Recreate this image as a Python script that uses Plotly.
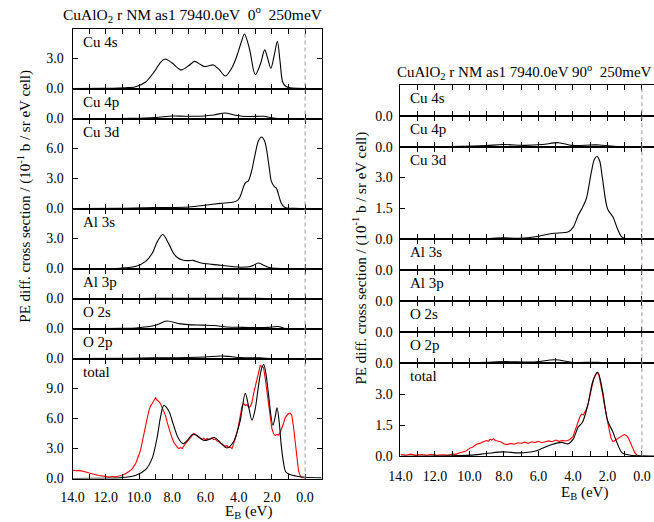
import plotly.graph_objects as go

# ---------------- data (E_B in eV, value in 10^-1 b / sr eV cell) ----------------
# Left panel (0 deg)
L_cu4s_E = [14.0, 12.0, 11.2, 10.6, 10.2, 9.6, 9.1, 8.7, 8.42, 8.0, 7.47, 7.0, 6.65, 6.3, 6.06, 5.75, 5.53, 5.2, 4.8, 4.4, 4.1, 3.85, 3.65, 3.45, 3.3, 3.0, 2.7, 2.43, 2.25, 2.06, 1.85, 1.67, 1.5, 1.35, 1.15, 0.9, 0.5, 0.0, -1.0]
L_cu4s_V = [0.0, 0.02, 0.05, 0.1, 0.18, 0.66, 1.64, 2.62, 2.95, 2.55, 1.87, 2.3, 2.72, 2.4, 2.2, 2.3, 2.36, 1.95, 1.25, 2.1, 3.3, 4.6, 5.45, 4.6, 3.6, 1.4, 2.4, 3.87, 3.0, 2.03, 3.4, 4.72, 2.6, 0.66, 0.2, 0.08, 0.03, 0.01, 0.0]

L_cu4p_E = [14.0, 10.5, 9.0, 8.0, 7.2, 6.1, 5.5, 4.8, 4.1, 3.5, 2.5, 2.0, 1.6, 0.0, -1.0]
L_cu4p_V = [0.0, 0.02, 0.1, 0.26, 0.23, 0.26, 0.36, 0.56, 0.3, 0.2, 0.23, 0.07, 0.0, 0.0, 0.0]

L_cu3d_E = [14.0, 11.0, 9.0, 7.0, 5.9, 5.1, 4.3, 4.05, 3.9, 3.6, 3.41, 3.2, 3.02, 2.8, 2.62, 2.45, 2.33, 2.15, 2.03, 1.85, 1.74, 1.6, 1.45, 1.25, 1.1, 0.7, 0.0, -1.0]
L_cu3d_V = [0.0, 0.03, 0.1, 0.16, 0.36, 0.52, 0.66, 0.85, 1.25, 2.56, 2.79, 3.9, 5.34, 6.8, 7.15, 6.8, 6.0, 4.0, 2.72, 2.2, 2.07, 1.4, 0.59, 0.15, 0.06, 0.02, 0.0, 0.0]

L_al3s_E = [14.0, 11.5, 11.16, 10.18, 9.6, 9.2, 8.9, 8.57, 8.22, 7.93, 7.65, 7.44, 7.04, 6.75, 6.26, 5.6, 5.08, 4.4, 3.9, 3.3, 3.1, 2.82, 2.5, 2.1, 1.8, 0.0, -1.0]
L_al3s_V = [0.0, 0.01, 0.03, 0.23, 0.72, 1.54, 2.69, 3.4, 2.52, 1.54, 1.05, 0.89, 0.79, 0.82, 0.56, 0.42, 0.33, 0.2, 0.13, 0.2, 0.33, 0.56, 0.33, 0.07, 0.02, 0.0, 0.0]

L_al3p_E = [14.0, 10.0, 8.5, 6.0, 4.8, 3.0, 1.5, 0.0, -1.0]
L_al3p_V = [0.0, 0.0, 0.03, 0.02, 0.04, 0.02, 0.0, 0.0, 0.0]

L_o2s_E = [14.0, 11.0, 10.18, 9.0, 8.33, 7.6, 7.04, 6.2, 5.47, 4.7, 3.8, 2.9, 2.2, 1.64, 1.15, 0.0, -1.0]
L_o2s_V = [0.0, 0.02, 0.06, 0.33, 0.75, 0.49, 0.39, 0.34, 0.3, 0.16, 0.12, 0.1, 0.12, 0.2, 0.0, 0.0, 0.0]

L_o2p_E = [14.0, 10.5, 9.0, 7.04, 6.0, 5.08, 4.5, 3.9, 2.72, 1.94, 0.0, -1.0]
L_o2p_V = [0.0, 0.02, 0.07, 0.1, 0.16, 0.26, 0.2, 0.1, 0.07, 0.0, 0.0, 0.0]

L_tot_E = [14.0, 12.5, 11.16, 10.18, 9.59, 9.2, 8.9, 8.7, 8.51, 8.22, 7.92, 7.63, 7.34, 7.05, 6.75, 6.4, 6.06, 5.75, 5.47, 5.1, 4.7, 4.3, 4.1, 3.9, 3.6, 3.4, 3.2, 3.0, 2.82, 2.62, 2.49, 2.35, 2.23, 1.94, 1.8, 1.69, 1.55, 1.45, 1.3, 1.16, 0.9, 0.57, 0.0, -1.0]
L_tot_V = [0.0, 0.03, 0.07, 0.33, 0.92, 2.07, 4.2, 6.2, 7.3, 6.8, 5.34, 4.03, 3.48, 3.9, 4.46, 4.15, 3.8, 3.95, 4.1, 3.6, 3.05, 3.7, 4.6, 5.84, 8.52, 7.2, 5.84, 7.0, 9.1, 11.0, 11.4, 10.4, 8.8, 5.34, 6.2, 7.08, 5.5, 3.54, 1.6, 0.66, 0.4, 0.26, 0.13, 0.07]

L_exp_E = [14.0, 13.8, 13.6, 13.4, 13.2, 13.0, 12.8, 12.6, 12.4, 12.2, 12.0, 11.8, 11.6, 11.4, 11.2, 11.0, 10.8, 10.6, 10.4, 10.2, 10.0, 9.9, 9.8, 9.7, 9.6, 9.5, 9.4, 9.3, 9.2, 9.1, 9.0, 8.95, 8.9, 8.8, 8.7, 8.6, 8.5, 8.4, 8.3, 8.2, 8.1, 8.0, 7.9, 7.8, 7.7, 7.6, 7.5, 7.4, 7.3, 7.2, 7.1, 7.0, 6.9, 6.8, 6.7, 6.6, 6.5, 6.4, 6.3, 6.2, 6.1, 6.0, 5.9, 5.8, 5.7, 5.6, 5.5, 5.4, 5.3, 5.2, 5.1, 5.0, 4.9, 4.8, 4.7, 4.6, 4.5, 4.4, 4.3, 4.2, 4.1, 4.0, 3.9, 3.8, 3.7, 3.6, 3.5, 3.4, 3.3, 3.2, 3.1, 3.0, 2.9, 2.8, 2.7, 2.6, 2.5, 2.4, 2.3, 2.2, 2.1, 2.0, 1.9, 1.8, 1.7, 1.6, 1.5, 1.4, 1.3, 1.2, 1.1, 1.0, 0.9, 0.8, 0.7, 0.6, 0.5, 0.4, 0.3, 0.2, 0.1, 0.0]
L_exp_V = [0.85, 0.78, 0.82, 0.7, 0.66, 0.55, 0.5, 0.38, 0.3, 0.24, 0.2, 0.14, 0.2, 0.18, 0.25, 0.3, 0.5, 0.7, 1.0, 1.5, 2.4, 2.9, 3.7, 4.6, 5.4, 6.1, 6.8, 7.3, 7.5, 7.8, 8.1, 7.9, 7.85, 7.7, 7.45, 7.0, 6.6, 6.3, 5.6, 5.0, 4.6, 4.0, 3.6, 3.3, 3.15, 3.0, 3.1, 3.0, 3.3, 3.5, 3.7, 3.9, 4.2, 4.35, 4.5, 4.4, 4.3, 4.15, 4.0, 3.9, 4.05, 3.85, 4.0, 3.9, 3.95, 4.05, 3.9, 3.95, 3.75, 3.7, 3.55, 3.4, 3.35, 3.2, 3.3, 3.1, 3.15, 3.0, 3.5, 4.0, 4.6, 5.4, 6.5, 7.2, 7.5, 7.3, 7.4, 7.1, 7.2, 7.6, 8.5, 9.2, 10.0, 10.8, 11.3, 11.2, 11.1, 10.0, 8.7, 7.2, 6.0, 5.0, 4.5, 4.3, 4.4, 4.35, 4.6, 5.0, 5.5, 6.1, 6.3, 6.5, 6.55, 6.3, 5.2, 3.5, 1.8, 0.8, 0.3, 0.1, 0.05, 0.03]

# Right panel (90 deg)
R_cu4s_E = [14.0, 0.0, -1.0]
R_cu4s_V = [0.0, 0.0, 0.0]

R_cu4p_E = [14.0, 10.5, 9.01, 8.06, 6.73, 5.78, 4.83, 4.07, 2.93, 2.46, 1.8, 1.04, 0.0, -1.0]
R_cu4p_V = [0.0, 0.01, 0.05, 0.1, 0.06, 0.1, 0.19, 0.06, 0.08, 0.08, 0.03, 0.0, 0.0, 0.0]

R_cu3d_E = [14.0, 10.5, 9.01, 8.06, 7.11, 5.98, 5.22, 4.27, 3.98, 3.7, 3.47, 3.23, 2.94, 2.75, 2.6, 2.45, 2.28, 1.99, 1.67, 1.42, 1.14, 0.66, 0.0, -1.0]
R_cu3d_V = [0.0, 0.01, 0.05, 0.08, 0.06, 0.16, 0.29, 0.37, 0.6, 1.16, 1.51, 1.96, 3.23, 3.9, 4.02, 3.8, 2.91, 1.48, 1.08, 0.52, 0.1, 0.02, 0.0, 0.0]

R_al3s_E = [14.0, 0.0, -1.0]
R_al3s_V = [0.0, 0.0, 0.0]

R_al3p_E = [14.0, 9.0, 6.5, 5.0, 3.5, 1.5, 0.0, -1.0]
R_al3p_V = [0.0, 0.0, 0.01, 0.02, 0.01, 0.0, 0.0, 0.0]

R_o2s_E = [14.0, 9.0, 8.0, 5.0, 2.0, 0.0, -1.0]
R_o2s_V = [0.0, 0.0, 0.01, 0.01, 0.0, 0.0, 0.0]

R_o2p_E = [14.0, 10.5, 9.01, 7.87, 6.35, 5.02, 4.07, 2.56, 1.42, 0.0, -1.0]
R_o2p_V = [0.0, 0.01, 0.05, 0.08, 0.06, 0.17, 0.05, 0.05, 0.0, 0.0, 0.0]

R_tot_E = [14.0, 11.0, 9.96, 9.01, 8.06, 7.11, 6.17, 5.22, 4.65, 4.27, 3.98, 3.7, 3.45, 3.13, 2.85, 2.56, 2.28, 1.99, 1.7, 1.42, 1.14, 0.66, 0.0, -1.0]
R_tot_V = [0.0, 0.02, 0.05, 0.13, 0.21, 0.16, 0.25, 0.57, 0.67, 0.6, 0.84, 1.4, 1.64, 2.51, 3.62, 4.07, 3.15, 1.72, 1.21, 0.6, 0.16, 0.05, 0.02, 0.01]

R_exp_E = [14.0, 13.7, 13.4, 13.1, 12.8, 12.5, 12.2, 11.9, 11.6, 11.3, 11.0, 10.8, 10.6, 10.4, 10.2, 10.0, 9.8, 9.6, 9.4, 9.2, 9.0, 8.9, 8.8, 8.7, 8.6, 8.5, 8.4, 8.2, 8.0, 7.8, 7.6, 7.4, 7.2, 7.0, 6.8, 6.6, 6.4, 6.2, 6.0, 5.8, 5.6, 5.4, 5.2, 5.0, 4.8, 4.6, 4.4, 4.2, 4.0, 3.9, 3.8, 3.7, 3.6, 3.5, 3.4, 3.3, 3.2, 3.1, 3.0, 2.9, 2.8, 2.7, 2.6, 2.5, 2.4, 2.3, 2.2, 2.1, 2.0, 1.9, 1.8, 1.7, 1.6, 1.5, 1.4, 1.3, 1.2, 1.1, 1.0, 0.9, 0.8, 0.7, 0.6, 0.5, 0.4, 0.3, 0.2, 0.1]
R_exp_V = [0.08, 0.05, 0.1, 0.04, 0.08, 0.05, 0.09, 0.04, 0.07, 0.05, 0.1, 0.09, 0.16, 0.2, 0.25, 0.38, 0.45, 0.58, 0.62, 0.7, 0.76, 0.72, 0.82, 0.78, 0.85, 0.76, 0.74, 0.7, 0.6, 0.56, 0.62, 0.58, 0.65, 0.63, 0.68, 0.62, 0.7, 0.66, 0.72, 0.65, 0.7, 0.74, 0.7, 0.78, 0.72, 0.76, 0.74, 0.8, 0.95, 1.2, 1.45, 1.7, 1.9, 2.05, 2.0, 2.15, 2.3, 2.6, 3.0, 3.4, 3.75, 3.95, 4.05, 3.95, 3.6, 3.1, 2.6, 2.1, 1.7, 1.3, 0.9, 0.72, 0.74, 0.8, 0.88, 0.92, 0.98, 1.02, 1.05, 1.0, 0.9, 0.7, 0.48, 0.3, 0.15, 0.06, 0.02, 0.0]

labels = ["Cu 4s", "Cu 4p", "Cu 3d", "Al 3s", "Al 3p", "O 2s", "O 2p", "total"]
L_tops = [6.0, 3.0, 9.0, 6.0, 3.0, 3.0, 3.0, 12.0]
R_tops = [1.5, 1.5, 4.5, 1.5, 1.5, 1.5, 1.5, 4.5]
L_theory = [(L_cu4s_E, L_cu4s_V), (L_cu4p_E, L_cu4p_V), (L_cu3d_E, L_cu3d_V), (L_al3s_E, L_al3s_V),
            (L_al3p_E, L_al3p_V), (L_o2s_E, L_o2s_V), (L_o2p_E, L_o2p_V), (L_tot_E, L_tot_V)]
R_theory = [(R_cu4s_E, R_cu4s_V), (R_cu4p_E, R_cu4p_V), (R_cu3d_E, R_cu3d_V), (R_al3s_E, R_al3s_V),
            (R_al3p_E, R_al3p_V), (R_o2s_E, R_o2s_V), (R_o2p_E, R_o2p_V), (R_tot_E, R_tot_V)]

# ---------------- layout ----------------
W, H = 654, 522
FONT = "Liberation Serif"
fig = go.Figure()
layout = dict(width=W, height=H, margin=dict(l=0, r=0, t=0, b=0),
              paper_bgcolor="white", plot_bgcolor="white", showlegend=False,
              font=dict(family=FONT, size=14, color="black"))
annotations = []
shapes = []

def py(px):
    return 1 - px / H

panels = [
    dict(x0=61.7, x1=315.5, top=29.0, bot=486.0, tops=L_tops, theory=L_theory, step=3.0,
         xr=[14, -1], exp=(L_exp_E, L_exp_V), mirror_y=True, xstand=6, ystand=5,
         title="CuAlO<sub>2</sub> r NM as1 7940.0eV  0<sup>o</sup>  250meV", title_x=184, title_y=14,
         title_size=15.5,
         ytitle_x=13, ytitle_y=199, xtitle_x=241, xtitle_y=509),
    dict(x0=395.7, x1=654.0, top=86.0, bot=463.3, tops=R_tops, theory=R_theory, step=1.5,
         xr=[14, -0.70], exp=(R_exp_E, R_exp_V), mirror_y=False, xstand=7, ystand=4,
         title="CuAlO<sub>2</sub> r NM as1 7940.0eV 90<sup>o</sup>  250meV", title_x=522, title_y=73,
         title_size=15,
         ytitle_x=355, ytitle_y=262, xtitle_x=583, xtitle_y=489),
]

n = 0
for p in panels:
    total_units = sum(p["tops"])
    scale = (p["bot"] - p["top"]) / total_units
    ytop = p["top"]
    for i, (lab, t) in enumerate(zip(labels, p["tops"])):
        n += 1
        ybot = ytop + t * scale
        xa = "x" if n == 1 else f"x{n}"
        ya = "y" if n == 1 else f"y{n}"
        xk = "xaxis" if n == 1 else f"xaxis{n}"
        yk = "yaxis" if n == 1 else f"yaxis{n}"
        last = (i == len(labels) - 1)
        layout[xk] = dict(domain=[p["x0"] / W, p["x1"] / W], range=p["xr"], anchor=ya,
                          showline=True, linecolor="black", linewidth=1, mirror="ticks",
                          ticks="inside", ticklen=5, tickcolor="black", tickwidth=1,
                          tickmode="linear", tick0=0, dtick=2, tickformat=".1f",
                          minor=dict(tickmode="linear", tick0=0, dtick=1, ticks="inside", ticklen=5,
                                     tickcolor="black", tickwidth=1, showgrid=False),
                          showticklabels=last, ticklabelstandoff=p["xstand"],
                          showgrid=False, zeroline=False,
                          tickfont=dict(family=FONT, size=14))
        yvals = []
        v = 0.0
        while v < t - 1e-6:
            yvals.append(v)
            v += p["step"]
        layout[yk] = dict(domain=[py(ybot), py(ytop)], range=[0, t], anchor=xa,
                          showline=True, linecolor="black", linewidth=1,
                          mirror="ticks" if p["mirror_y"] else False,
                          ticks="inside", ticklen=5, tickcolor="black", tickwidth=1,
                          tickmode="array", tickvals=yvals, ticktext=[f"{v:.1f}" for v in yvals],
                          ticklabelstandoff=p["ystand"],
                          showgrid=False, zeroline=False, tickfont=dict(family=FONT, size=14))
        E, V = p["theory"][i]
        if last:
            fig.add_trace(go.Scatter(x=p["exp"][0], y=p["exp"][1], mode="lines", xaxis=xa, yaxis=ya,
                                     line=dict(color="#ff0000", width=1.1), hoverinfo="skip"))
        fig.add_trace(go.Scatter(x=E, y=V, mode="lines", xaxis=xa, yaxis=ya,
                                 line=dict(color="black", width=1.1, shape="spline", smoothing=0.9),
                                 hoverinfo="skip"))
        annotations.append(dict(text=lab, xref=f"{xa} domain", yref=f"{ya} domain", x=0, y=1,
                                xanchor="left", yanchor="middle", xshift=8, yshift=-13,
                                showarrow=False, font=dict(family=FONT, size=15)))
        ytop = ybot
        if i == 0:
            first_x = xa
    # dashed vertical line at E = 0
    shapes.append(dict(type="line", xref=first_x, yref="paper", x0=0, x1=0,
                       y0=py(p["bot"]), y1=py(p["top"]),
                       line=dict(color="#999999", width=1, dash="4px,3px")))
    annotations.append(dict(text=p["title"], xref="paper", yref="paper", x=p["title_x"] / W,
                            y=py(p["title_y"]), xanchor="center", yanchor="middle", showarrow=False,
                            font=dict(family=FONT, size=p["title_size"])))
    annotations.append(dict(text="PE diff. cross section / (10<sup>-1</sup> b / sr eV cell)",
                            xref="paper", yref="paper", x=p["ytitle_x"] / W, y=py(p["ytitle_y"]),
                            textangle=-90, xanchor="center", yanchor="middle", showarrow=False,
                            font=dict(family=FONT, size=15)))
    annotations.append(dict(text="E<sub>B</sub> (eV)", xref="paper", yref="paper",
                            x=p["xtitle_x"] / W, y=py(p["xtitle_y"]), xanchor="center",
                            yanchor="top", showarrow=False, font=dict(family=FONT, size=15)))

layout["annotations"] = annotations
layout["shapes"] = shapes
fig.update_layout(**layout)
fig.write_html("out.html")
